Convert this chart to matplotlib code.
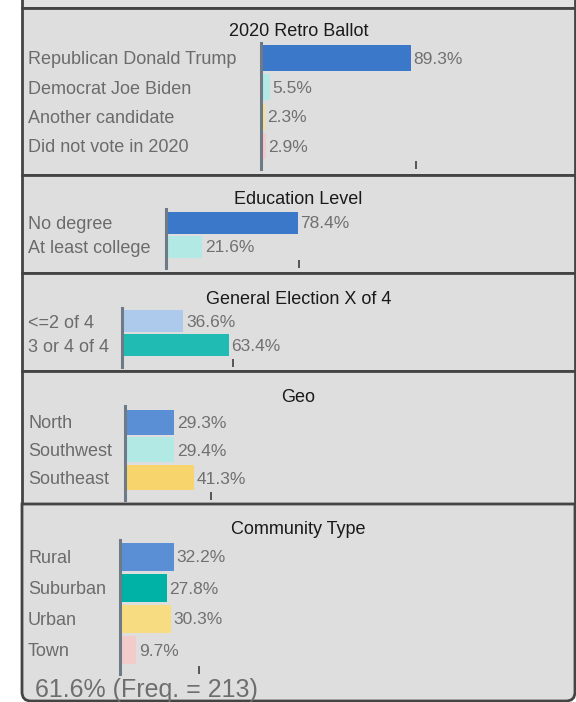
import matplotlib
matplotlib.use("Agg")
import matplotlib.pyplot as plt
from matplotlib.patches import Rectangle, PathPatch
from matplotlib.path import Path
from matplotlib.transforms import blended_transform_factory

plt.rcParams['font.family'] = ['Liberation Sans', 'DejaVu Sans']

# ---------------- data ----------------
titles = ["2020 Retro Ballot", "Education Level", "General Election X of 4", "Geo", "Community Type"]

ballot_labels = ["Republican Donald Trump", "Democrat Joe Biden", "Another candidate", "Did not vote in 2020"]
ballot_values = [89.3, 5.5, 2.3, 2.9]

edu_labels = ["No degree", "At least college"]
edu_values = [78.4, 21.6]

gen_labels = ["<=2 of 4", "3 or 4 of 4"]
gen_values = [36.6, 63.4]

geo_labels = ["North", "Southwest", "Southeast"]
geo_values = [29.3, 29.4, 41.3]

comm_labels = ["Rural", "Suburban", "Urban", "Town"]
comm_values = [32.2, 27.8, 30.3, 9.7]

tick_marks = [92.3, 79.0, 66.0, 51.0, 47.0]

footer_text = "61.6% (Freq. = 213)"

# ---------------- styles ----------------
ballot_colors = ["#3b78c9", "#b3e9e5", "#f9e08a", "#f4c9c9"]
edu_colors = ["#3b78c9", "#b3e9e5"]
gen_colors = ["#adc9ec", "#20bcb3"]
geo_colors = ["#5b8fd5", "#b3e9e5", "#f7d56c"]
comm_colors = ["#5b8fd5", "#00b1a6", "#f8dc82", "#f2cbcb"]

W, H = 576, 702
fig = plt.figure(figsize=(W / 100, H / 100), dpi=100)
fig.patch.set_facecolor("white")

def fx(x):
    return x / W

def fy(y):
    return 1 - y / H

PANEL_X0, PANEL_X1 = 22, 575
FACE = "#dedede"
EDGE = "#444444"

# panel layout (pixel): top, bottom, title_y, axis_x, axis_top, axis_bot, first_center, pitch, bar_h
layouts = [
    (8, 175, 30, 261, 43, 169, 57.5, 29.5, 26),
    (175, 273, 198, 166, 209, 268, 222.5, 24, 22),
    (273, 371, 297, 122, 308, 367, 321.5, 24, 22),
    (371, 504, 395, 125, 406, 500, 422, 27.8, 25),
    (504, 701, 528, 120, 540, 674, 556.5, 31, 28),
]

panels = [
    (ballot_labels, ballot_values, ballot_colors),
    (edu_labels, edu_values, edu_colors),
    (gen_labels, gen_values, gen_colors),
    (geo_labels, geo_values, geo_colors),
    (comm_labels, comm_values, comm_colors),
]

# top strip (remnant of previous panel)
fig.patches.append(Rectangle((fx(PANEL_X0), fy(8)), fx(PANEL_X1) - fx(PANEL_X0), fy(-20) - fy(8),
                             transform=fig.transFigure, facecolor="#e2e2e2", edgecolor=EDGE,
                             linewidth=2, zorder=-10))

PX_PER_PCT = 1.68

for i, ((labels, values, colors), lay) in enumerate(zip(panels, layouts)):
    top, bot, ty, axx, atop, abot, c0, pitch, bh = lay
    if i < 4:
        fig.patches.append(Rectangle((fx(PANEL_X0), fy(bot)), fx(PANEL_X1) - fx(PANEL_X0), fy(top) - fy(bot),
                                     transform=fig.transFigure, facecolor=FACE, edgecolor=EDGE,
                                     linewidth=2, zorder=-10))
    else:
        r = 9
        x0, x1 = fx(PANEL_X0), fx(PANEL_X1)
        yt, yb = fy(top), fy(bot)
        rx, ry = r / W, r / H
        verts = [(x0, yt), (x0, yb + ry), (x0, yb), (x0 + rx, yb), (x1 - rx, yb), (x1, yb),
                 (x1, yb + ry), (x1, yt), (x0, yt)]
        codes = [Path.MOVETO, Path.LINETO, Path.CURVE3, Path.CURVE3, Path.LINETO, Path.CURVE3,
                 Path.CURVE3, Path.LINETO, Path.CLOSEPOLY]
        fig.patches.append(PathPatch(Path(verts, codes), transform=fig.transFigure, facecolor=FACE,
                                     edgecolor=EDGE, linewidth=2, zorder=-10))

    fig.text(fx((PANEL_X0 + PANEL_X1) / 2), fy(ty), titles[i], ha="center", va="center_baseline",
             fontsize=13, color="#1a1a1a")

    ax = fig.add_axes([fx(axx), fy(abot), 100 * PX_PER_PCT / W, (abot - atop) / H])
    ax.set_zorder(5)
    ax.set_xlim(0, 100)
    ax.set_ylim((abot - c0) / pitch, (atop - c0) / pitch)
    ax.patch.set_visible(False)
    for s in ["top", "right", "bottom"]:
        ax.spines[s].set_visible(False)
    ax.spines["left"].set_color("#6e7a86")
    ax.spines["left"].set_linewidth(2.2)
    ax.set_yticks([])
    ax.set_xticks([tick_marks[i]])
    ax.tick_params(axis="x", direction="in", length=6, width=1.4, color="#555555",
                   labelbottom=False)

    ypos = list(range(len(values)))
    ax.barh(ypos, values, height=bh / pitch, color=colors, edgecolor="none", zorder=2)
    for y, v in zip(ypos, values):
        ax.annotate(f"{v}%", (v, y), xytext=(1.8, 0), textcoords="offset points",
                    ha="left", va="center_baseline", fontsize=12.5, color="#707070")

    tr = blended_transform_factory(fig.transFigure, ax.transData)
    for y, lab in zip(ypos, labels):
        ax.text(fx(28), y, lab, transform=tr, ha="left", va="center_baseline", fontsize=13,
                color="#6b6b6b", clip_on=False)

fig.text(fx(35), fy(697), footer_text, ha="left", va="baseline", fontsize=18, color="#6e6e6e")

fig.savefig("out.png", dpi=100)
